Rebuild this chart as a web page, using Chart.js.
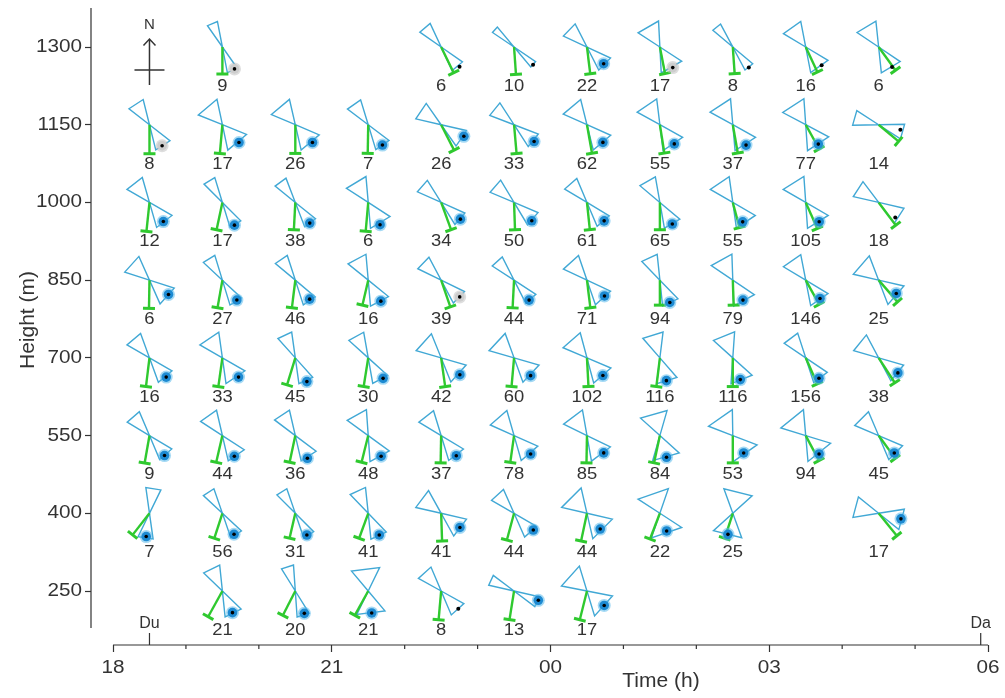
<!DOCTYPE html>
<html>
<head>
<meta charset="utf-8">
<script src="https://cdn.jsdelivr.net/npm/chart.js@4.4.1/dist/chart.umd.min.js"></script>
<style>
html,body{margin:0;padding:0;background:#ffffff;}
#wrap{width:1005px;height:698px;position:relative;}
</style>
</head>
<body>
<div id="wrap"><canvas id="c"></canvas></div>
<script>
// ---------------- DATA ----------------
// time of each glyph (hours; values >24 are after midnight)
const times = [
  19.5,22.5,23.5,24.5,25.5,26.5,27.5,28.5,
  18.5,19.5,20.5,21.5,22.5,23.5,24.5,25.5,26.5,27.5,28.5,
  18.5,19.5,20.5,21.5,22.5,23.5,24.5,25.5,26.5,27.5,28.5,
  18.5,19.5,20.5,21.5,22.5,23.5,24.5,25.5,26.5,27.5,28.5,
  18.5,19.5,20.5,21.5,22.5,23.5,24.5,25.5,26.5,27.5,28.5,
  18.5,19.5,20.5,21.5,22.5,23.5,24.5,25.5,26.5,27.5,28.5,
  18.5,19.5,20.5,21.5,22.5,23.5,24.5,25.5,26.5,28.5,
  19.5,20.5,21.5,22.5,23.5,24.5
];
const heights = [
  1300,1300,1300,1300,1300,1300,1300,1300,
  1150,1150,1150,1150,1150,1150,1150,1150,1150,1150,1150,
  1000,1000,1000,1000,1000,1000,1000,1000,1000,1000,1000,
  850,850,850,850,850,850,850,850,850,850,850,
  700,700,700,700,700,700,700,700,700,700,700,
  550,550,550,550,550,550,550,550,550,550,550,
  400,400,400,400,400,400,400,400,400,400,
  250,250,250,250,250,250
];
const counts = [
  9,6,10,22,17,8,16,6,
  8,17,26,7,26,33,62,55,37,77,14,
  12,17,38,6,34,50,61,65,55,105,18,
  6,27,46,16,39,44,71,94,79,146,25,
  16,33,45,30,42,60,102,116,116,156,38,
  9,44,36,48,37,78,85,84,53,94,45,
  7,56,31,41,41,44,44,22,25,17,
  21,20,21,8,13,17
];
// orientation axis (deg clockwise from north) and angular half-spread (deg)
const axisDeg = [
  -23,-40,-48,-46,-30,-39,-35,-31,
  -33,-40,-40,-35,-56,-51,-40,-34,-33,-33,-74,
  -38,-31,-36,-31,-49,-49,-41,-30,-34,-32,-57,
  -48,-32,-34,-28,-46,-42,-42,-25,-29,-35,-49,
  -40,-34,-25,-29,-48,-47,-41,-17,-22,-37,-51,
  -41,-35,-33,-29,-38,-41,-37,-16,-35,-39,-45,
  9,-33,-32,-25,-53,-42,-45,-19,14,-75,
  -26,-18,-7,-42,-65,-48
];
const spreadDeg = [
  12,15,8,19,27,11,24,25,
  19,28,27,18,21,18,26,27,28,29,17,
  22,14,15,26,17,18,18,20,26,28,20,
  24,15,16,23,18,15,23,19,27,24,28,
  20,26,17,19,26,27,26,24,26,19,23,
  18,22,20,25,21,25,27,32,34,34,22,
  17,14,13,19,24,18,32,38,34,24,
  20,14,33,19,12,31
];
// track direction (deg) and magnitude
const trackDeg = [
  180,154,176,173,169,176,155,144,
  180,185,180,181,153,175,170,171,170,151,130,
  186,192,183,185,160,178,174,180,165,156,143,
  181,190,187,193,161,183,173,180,178,151,139,
  187,188,197,189,172,185,177,187,180,156,147,
  190,193,192,194,181,188,181,192,180,152,144,
  218,198,193,200,178,195,192,201,198,141,
  209,207,209,185,189,194
];
const trackLen = [
  27,28.6,27.4,27,27,26.7,27.6,28.7,
  29,28.8,28.7,28.7,28.5,28.8,29,28.7,28.7,27.7,26,
  29,28,27.3,29,29,27.3,27.4,27.3,26,28.5,28.5,
  28.3,28,27.9,25.6,28.3,27.7,27.9,25,25,27.7,28.8,
  28.9,29,28.2,29,29,28.8,28.7,28.9,28.7,28.5,29.7,
  27.8,27.4,27.3,27.5,27.3,27,27.3,27.9,27.3,28.3,28.2,
  27.4,26.3,25.6,26.6,27.7,27.7,28.3,27.5,26.3,28.9,
  29.4,27.3,27.7,28.8,29,29.6
];
// wind direction (deg) and magnitude
const windDeg = [
  151,137,133,135,148,142,139,146,
  149,137,136,145,117,130,138,143,147,147,103,
  144,152,145,152,131,136,137,150,153,145,132,
  127,144,143,149,132,143,132,156,153,142,127,
  139,140,154,144,132,137,138,164,161,147,128,
  143,150,152,148,143,138,136,163,148,144,138,
  188,151,152,153,127,131,140,159,193,104,
  155,158,171,136,111,130
];
const windLen = [
  25,27,26,23.6,24.3,26,24.3,24,
  24.5,24.3,24.7,24.8,25.5,26.2,23.8,24,24.3,23.1,22.3,
  23.6,25.7,25.2,25.2,25.5,25.5,25.2,24.9,21.8,23.5,22.4,
  23.8,24.6,23.8,24.5,25,25,23.6,24.4,22.4,23.2,22.1,
  25.5,25.1,26.4,25.3,25.2,24.3,23.8,23.7,23,24.3,24.4,
  25,23.9,25.7,24.3,25.2,24.8,24.1,22.7,20.5,22.7,23.4,
  23.5,24,24.6,24.3,23.5,25.5,20.6,18.9,21.6,23,
  23.9,24.1,22.2,24.7,26,22.5
];
// dot kind: b = significant (blue), g = grey, k = small black
const windKind = [
  'g','k','k','b','g','k','k','k',
  'g','b','b','b','b','b','b','b','b','b','k',
  'b','b','b','b','b','b','b','b','b','b','k',
  'b','b','b','b','g','b','b','b','b','b','b',
  'b','b','b','b','b','b','b','b','b','b','b',
  'b','b','b','b','b','b','b','b','b','b','b',
  'b','b','b','b','b','b','b','b','b','b',
  'b','b','b','k','b','b'
];
const hourTicks = [18,19,20,21,22,23,24,25,26,27,28,29,30];
const hourLabels = ['18','','','21','','','00','','','03','','','06'];
const heightTicks = [250,400,550,700,850,1000,1150,1300];
const eventTimes = [18.5, 29.9];
const eventLabels = ['Du','Da'];
const compassAt = [18.5, 1300];

// ---------------- STYLE ----------------
const FONT = "'Liberation Sans', Arial, Helvetica, sans-serif";
const INK = '#333333';
const BOW = '#41a8d5';
const GREEN = '#2fc92f';
const R_BOW = 26;      // px radius of the orientation sectors
const UNIT = 1;        // px per magnitude unit
const STRETCH = 1.15;  // horizontal stretch of digit text
const X_MIN = 17.698, X_MAX = 30;
const Y_MIN = 145.77, Y_MAX = 1375.3;
const Y_LINE_LOW = 178.6;

Chart.defaults.font.family = FONT;
Chart.defaults.color = INK;

function dirv(deg){ const r = deg*Math.PI/180; return [Math.sin(r), -Math.cos(r)]; }
function wideText(ctx, txt, x, y, align){
  ctx.save();
  ctx.translate(x, y); ctx.scale(STRETCH, 1);
  ctx.textAlign = align; ctx.fillText(txt, 0, 0);
  ctx.restore();
}

const glyphPlugin = {
  id: 'glyphs',
  afterDatasetsDraw(chart){
    const ctx = chart.ctx;
    const xs = chart.scales.x, ys = chart.scales.y;
    const area = chart.chartArea;
    ctx.save();
    // axis lines
    ctx.strokeStyle = INK; ctx.lineWidth = 1.2; ctx.lineCap = 'butt';
    ctx.beginPath();
    ctx.moveTo(area.left, ys.getPixelForValue(Y_MAX));
    ctx.lineTo(area.left, ys.getPixelForValue(Y_LINE_LOW));
    ctx.moveTo(xs.getPixelForValue(hourTicks[0]), area.bottom);
    ctx.lineTo(xs.getPixelForValue(hourTicks[hourTicks.length-1]), area.bottom);
    ctx.stroke();
    // minor x ticks
    ctx.beginPath();
    hourTicks.forEach((h, i) => {
      if (!hourLabels[i]) {
        const px = xs.getPixelForValue(h);
        ctx.moveTo(px, area.bottom); ctx.lineTo(px, area.bottom + 4);
      }
    });
    ctx.stroke();
    // tick labels
    ctx.fillStyle = INK; ctx.font = '18px ' + FONT; ctx.textBaseline = 'middle';
    hourTicks.forEach((h, i) => {
      if (hourLabels[i]) wideText(ctx, hourLabels[i], xs.getPixelForValue(h), area.bottom + 23.5, 'center');
    });
    heightTicks.forEach(v => {
      wideText(ctx, String(v), area.left - 9, ys.getPixelForValue(v), 'right');
    });
    // dusk / dawn markers
    ctx.font = '16px ' + FONT; ctx.textAlign = 'center'; ctx.textBaseline = 'alphabetic';
    eventTimes.forEach((t, i) => {
      const px = xs.getPixelForValue(t);
      ctx.beginPath(); ctx.moveTo(px, area.bottom); ctx.lineTo(px, area.bottom - 12); ctx.stroke();
      ctx.fillText(eventLabels[i], px, area.bottom - 17);
    });
    // axis titles
    ctx.font = '21px ' + FONT;
    ctx.textBaseline = 'middle';
    ctx.fillText('Time (h)', 661, 681);
    ctx.save();
    ctx.translate(28, 320); ctx.rotate(-Math.PI/2);
    ctx.fillText('Height (m)', 0, 0);
    ctx.restore();
    // compass
    const ccx = xs.getPixelForValue(compassAt[0]), ccy = ys.getPixelForValue(compassAt[1]);
    ctx.lineWidth = 1.5;
    ctx.beginPath();
    ctx.moveTo(ccx, ccy - 8); ctx.lineTo(ccx, ccy + 38);
    ctx.moveTo(ccx - 6, ccy - 1.5); ctx.lineTo(ccx, ccy - 8); ctx.lineTo(ccx + 6, ccy - 1.5);
    ctx.moveTo(ccx - 15, ccy + 23); ctx.lineTo(ccx + 15, ccy + 23);
    ctx.stroke();
    ctx.font = '15px ' + FONT;
    ctx.fillText('N', ccx, ccy - 22);

    // glyphs
    const meta = chart.getDatasetMeta(0);
    meta.data.forEach((pt, i) => {
      const cx = pt.x, cy = pt.y;
      // orientation bow-tie
      ctx.strokeStyle = BOW; ctx.lineWidth = 1.4; ctx.lineJoin = 'miter';
      [0, 180].forEach(off => {
        const a = axisDeg[i] + off, s = spreadDeg[i];
        const p1 = dirv(a - s), p2 = dirv(a + s);
        ctx.beginPath();
        ctx.moveTo(cx, cy);
        ctx.lineTo(cx + R_BOW*p1[0], cy + R_BOW*p1[1]);
        ctx.lineTo(cx + R_BOW*p2[0], cy + R_BOW*p2[1]);
        ctx.closePath();
        ctx.stroke();
      });
      // track line with end bar
      const d = dirv(trackDeg[i]), L = trackLen[i]*UNIT;
      const ex = cx + L*d[0], ey = cy + L*d[1];
      ctx.strokeStyle = GREEN; ctx.lineCap = 'butt';
      ctx.lineWidth = 2.4;
      ctx.beginPath(); ctx.moveTo(cx, cy); ctx.lineTo(ex, ey); ctx.stroke();
      const p = dirv(trackDeg[i] + 90);
      ctx.lineWidth = 3;
      ctx.beginPath(); ctx.moveTo(ex - 6*p[0], ey - 6*p[1]); ctx.lineTo(ex + 6*p[0], ey + 6*p[1]); ctx.stroke();
      // wind dot
      const w = dirv(windDeg[i]), wl = windLen[i]*UNIT;
      const wx = cx + wl*w[0], wy = cy + wl*w[1];
      const k = windKind[i];
      if (k === 'b') {
        ctx.fillStyle = 'rgba(90,185,235,0.55)';
        ctx.beginPath(); ctx.arc(wx, wy, 6.5, 0, Math.PI*2); ctx.fill();
        ctx.fillStyle = '#1d8ad2';
        ctx.beginPath(); ctx.arc(wx, wy, 4.8, 0, Math.PI*2); ctx.fill();
      } else if (k === 'g') {
        ctx.fillStyle = 'rgba(190,190,190,0.5)';
        ctx.beginPath(); ctx.arc(wx, wy, 6.5, 0, Math.PI*2); ctx.fill();
        ctx.fillStyle = '#cdcdcd';
        ctx.beginPath(); ctx.arc(wx, wy, 4.8, 0, Math.PI*2); ctx.fill();
      }
      ctx.fillStyle = '#000';
      ctx.beginPath(); ctx.arc(wx, wy, k === 'k' ? 2 : 1.8, 0, Math.PI*2); ctx.fill();
      // count label
      ctx.fillStyle = INK; ctx.font = '16px ' + FONT; ctx.textBaseline = 'middle';
      wideText(ctx, String(counts[i]), cx, cy + 39.5, 'center');
    });
    ctx.restore();
  }
};

new Chart(document.getElementById('c'), {
  type: 'scatter',
  data: {
    datasets: [{
      data: times.map((t, i) => ({x: t, y: heights[i]})),
      pointRadius: 0,
      pointHoverRadius: 0,
      showLine: false
    }]
  },
  options: {
    responsive: true,
    maintainAspectRatio: false,
    devicePixelRatio: 1,
    animation: false,
    events: [],
    layout: { padding: { top: 8, right: 17, left: 0, bottom: 0 } },
    plugins: { legend: { display: false }, tooltip: { enabled: false } },
    scales: {
      x: {
        type: 'linear', min: X_MIN, max: X_MAX,
        afterBuildTicks: s => { s.ticks = hourTicks.map(v => ({value: v})); },
        afterFit: s => { s.height = 53; s.paddingLeft = 0; s.paddingRight = 0; },
        border: { display: false },
        grid: {
          display: true, drawOnChartArea: false, drawTicks: true, tickLength: 7, tickWidth: 1.2,
          tickColor: c => (c.tick && hourLabels[hourTicks.indexOf(c.tick.value)]) ? INK : 'rgba(0,0,0,0)'
        },
        ticks: { display: false, autoSkip: false, maxRotation: 0 }
      },
      y: {
        type: 'linear', min: Y_MIN, max: Y_MAX,
        afterBuildTicks: s => { s.ticks = heightTicks.map(v => ({value: v})); },
        afterFit: s => { s.width = 91; s.paddingTop = 0; s.paddingBottom = 0; },
        border: { display: false },
        grid: { display: true, drawOnChartArea: false, drawTicks: true, tickLength: 6, tickWidth: 1.2, tickColor: INK },
        ticks: { display: false }
      }
    }
  },
  plugins: [glyphPlugin]
});
</script>
</body>
</html>
